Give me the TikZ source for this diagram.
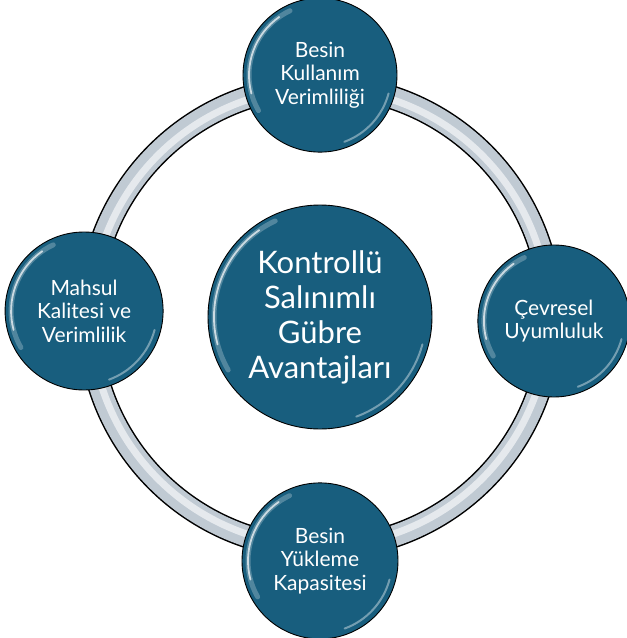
\documentclass[tikz,border=0pt]{standalone}
\usepackage{fontspec}
\setmainfont{Lato}
\usetikzlibrary{positioning,calc,backgrounds}
\definecolor{bubbleblue}{RGB}{24,94,126}
\definecolor{ringgrey}{RGB}{192,202,211}

\begin{document}
\begin{tikzpicture}[
    node distance=48pt,
    bubble/.style={draw, circle, line width=0.9pt, fill=bubbleblue, text=white, align=center, inner sep=0pt, minimum size=154pt, font=\fontsize{21}{23.5}\selectfont, gloss},
    gloss/.style={path picture={
        \draw[white, opacity=.25, line width=5pt, line cap=round] let \p1=(path picture bounding box.east), \p2=(path picture bounding box.center), \n1={\x1-\x2-6pt} in
            ($(\p2)+(115:\n1)$) arc[start angle=115, end angle=210, radius=\n1];
        \draw[white, opacity=.7, line width=1.8pt, line cap=round] let \p1=(path picture bounding box.east), \p2=(path picture bounding box.center), \n1={\x1-\x2-6pt} in
            ($(\p2)+(125:\n1)$) arc[start angle=125, end angle=195, radius=\n1];
        \draw[white, opacity=.4, line width=2pt, line cap=round] let \p1=(path picture bounding box.east), \p2=(path picture bounding box.center), \n1={\x1-\x2-6pt} in
            ($(\p2)+(290:\n1)$) arc[start angle=290, end angle=345, radius=\n1];
    }}
]
    \useasboundingbox (-320pt,-321pt) rectangle (307pt,317pt);

    \node[bubble, minimum size=224pt, font=\fontsize{31}{35}\selectfont] (hub) {Kontrollü\\Salınımlı\\Gübre\\Avantajları};
    \node[bubble, above=52pt of hub] (besin) {Besin\\Kullanım\\Verimliliği};
    \node[bubble, minimum size=158pt, left=44pt of hub, yshift=6pt] (mahsul) {Mahsul\\Kalitesi ve\\Verimlilik};
    \node[bubble, minimum size=152pt, right=45pt of hub, yshift=-4pt] (cevre) {Çevresel\\Uyumluluk};
    \node[bubble, minimum size=156pt, below=53pt of hub] (yukleme) {Besin\\Yükleme\\Kapasitesi};

    % silver ring behind the bubbles
    \begin{scope}[on background layer]
        \draw[line width=24pt] (hub.center) circle[radius=231pt];
        \draw[line width=21pt, ringgrey] (hub.center) circle[radius=231pt];
        \draw[line width=7pt, white, opacity=.6] (hub.center) circle[radius=229pt];
    \end{scope}
\end{tikzpicture}
\end{document}
